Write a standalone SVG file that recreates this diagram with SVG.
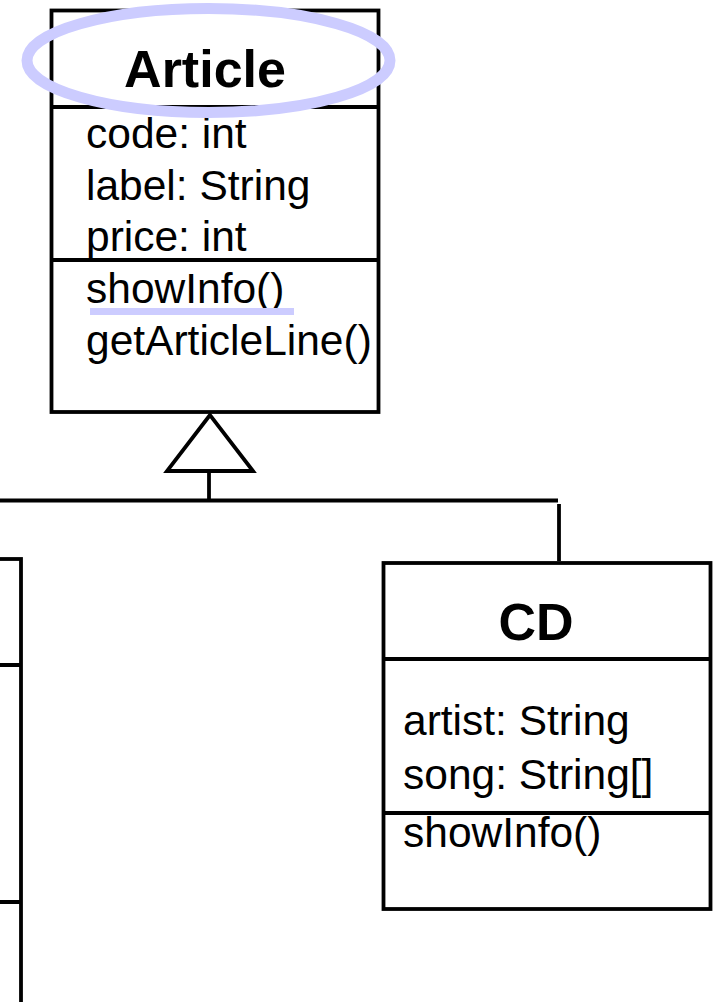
<svg xmlns="http://www.w3.org/2000/svg" width="713" height="1002" viewBox="0 0 713 1002">
  <style>
    .box { fill: #ffffff; stroke: #000000; stroke-width: 3.8; }
    .sep { stroke: #000000; stroke-width: 3.8; fill: none; }
    .link { stroke: #000000; stroke-width: 3.8; fill: none; }
    .title { font-family: "Liberation Sans", Arial, sans-serif; font-weight: bold; font-size: 52px; fill: #000000; text-anchor: middle; }
    .member { font-family: "Liberation Sans", Arial, sans-serif; font-size: 42.5px; fill: #000000; }
    .mark { stroke: #ccccff; fill: none; }
  </style>
  <rect width="713" height="1002" fill="#ffffff"/>

  <!-- inheritance connectors -->
  <g id="connectors">
    <polygon class="link" fill="#ffffff" points="210,415 167,471 253,471"/>
    <line class="link" x1="209" y1="471" x2="209" y2="500.5"/>
    <line class="link" x1="0" y1="500.5" x2="558" y2="500.5"/>
    <line class="link" x1="559" y1="504" x2="559" y2="561"/>
  </g>

  <!-- class Article -->
  <g id="article">
    <rect class="box" x="51.5" y="10.5" width="327" height="401.5"/>
    <line class="sep" x1="51.5" y1="107" x2="378.5" y2="107"/>
    <line class="sep" x1="51.5" y1="260" x2="378.5" y2="260"/>
    <text class="title" x="205" y="87">Article</text>
    <text class="member" x="86" y="148">code: int</text>
    <text class="member" x="86" y="200">label: String</text>
    <text class="member" x="86" y="251">price: int</text>
    <text class="member" x="86" y="303">showInfo()</text>
    <text class="member" x="86" y="355">getArticleLine()</text>
  </g>

  <!-- highlight marks on Article -->
  <g id="highlights">
    <ellipse class="mark" cx="208.5" cy="60.5" rx="181.5" ry="52" stroke-width="11"/>
    <line class="mark" x1="90" y1="311.5" x2="294" y2="311.5" stroke-width="7"/>
  </g>

  <!-- class CD -->
  <g id="cd">
    <rect class="box" x="383.5" y="563" width="327" height="346"/>
    <line class="sep" x1="383.5" y1="659" x2="710.5" y2="659"/>
    <line class="sep" x1="383.5" y1="813" x2="710.5" y2="813"/>
    <text class="title" x="536" y="640">CD</text>
    <text class="member" x="403" y="735">artist: String</text>
    <text class="member" x="403" y="789">song: String[]</text>
    <text class="member" x="403" y="847">showInfo()</text>
  </g>

  <!-- class partially outside the left edge -->
  <g id="left-class">
    <rect class="box" x="-320" y="559" width="341" height="470"/>
    <line class="sep" x1="-320" y1="665" x2="21" y2="665"/>
    <line class="sep" x1="-320" y1="902" x2="21" y2="902"/>
  </g>
</svg>
